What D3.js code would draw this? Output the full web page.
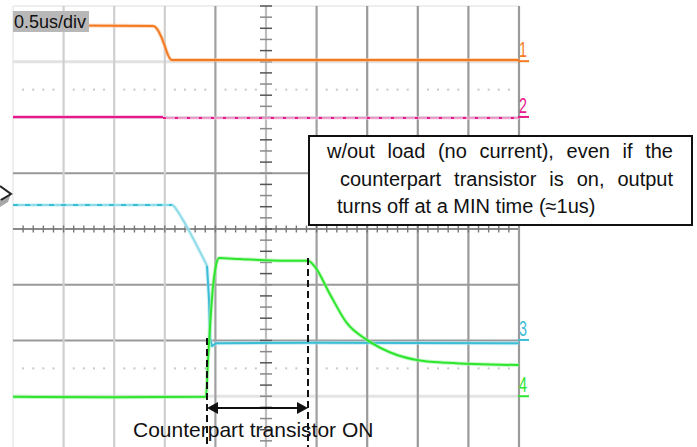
<!DOCTYPE html>
<html><head><meta charset="utf-8">
<script src="https://cdn.jsdelivr.net/npm/d3@7/dist/d3.min.js"></script>
<style>
html,body{margin:0;padding:0;background:#fff;}
svg{display:block;font-family:"Liberation Sans",Arial,sans-serif;}
</style></head>
<body>
<svg id="c" width="697" height="447"></svg>
<script>
// ---- data (time in us, level in vertical divisions) ----
const timeLabel = "0.5us/div";
const channelNames = ["1", "2", "3", "4"];
const channelGround = [3.01, 2.01, -1.99, -3.0];
const ch1 = [[0,3.64],[0.6,3.65],[1.383,3.64],[1.423,3.59],[1.462,3.46],[1.502,3.27],[1.532,3.12],[1.571,3.03],[3,3.03],[5,3.03]];
const ch2Before = [[0,2.01],[1.482,2.01]];
const ch2After = [[1.482,1.99],[5,1.99]];
const ch3Before = [[0,0.43],[1.571,0.43],[1.611,0.36],[1.650,0.25],[1.917,-0.66]];
const ch3After = [[1.917,-0.66],[1.937,-1.27],[1.947,-1.96],[1.966,-2.10],[2.006,-2.05],[3,-2.04],[5,-2.05]];
const ch4 = [[0,-3.01],[1.0,-3.02],[1.907,-3.01],[1.927,-2.35],[1.976,-1.04],[2.006,-0.65],[2.036,-0.52],[2.243,-0.54],[2.490,-0.56],[2.737,-0.57],[2.915,-0.57],[2.984,-0.68],[3.132,-1.17],[3.300,-1.69],[3.498,-1.99],[3.794,-2.26],[3.992,-2.35],[4.289,-2.40],[5,-2.44]];
const onStart = 1.917, onEnd = 2.915;
const noteLines = ["w/out load (no current), even if the", "counterpart transistor is on, output", "turns off at a MIN time (\u22481us)"];
const bottomLabel = "Counterpart transistor ON";

// ---- scales ----
const x = d3.scaleLinear().domain([0, 5]).range([13, 519]);
const y = d3.scaleLinear().domain([-4, 4]).range([452, 6]);
const svg = d3.select("#c");
const line = d3.line().x(d => x(d[0])).y(d => y(d[1]));
const smooth = d3.line().x(d => x(d[0])).y(d => y(d[1])).curve(d3.curveMonotoneX);

// ---- grid ----
const g = svg.append("g");
g.append("line").attr("x1", x(0)).attr("x2", x(0)).attr("y1", y(4)).attr("y2", 447).attr("stroke", "#eeeeee").attr("stroke-width", 2);
g.append("line").attr("x1", x(0)).attr("x2", x(5)).attr("y1", y(4)).attr("y2", y(4)).attr("stroke", "#eeeeee").attr("stroke-width", 2);
const hLines = [[3,"#e2e2e2",3],[2,"#aaaaaa",2],[1,"#999999",2],[0,"#8a8a8a",2],[-1,"#999999",2],[-2,"#999999",2],[-3,"#e4e4e4",3]];
hLines.forEach(([v,c,w]) => g.append("line").attr("x1", x(0)).attr("x2", x(5)).attr("y1", y(v)).attr("y2", y(v)).attr("stroke", c).attr("stroke-width", w));
const vLines = [[0.5,"#cfcfcf"],[1,"#cfcfcf"],[1.5,"#cfcfcf"],[2,"#a0a0a0"],[2.5,"#bdbdbd"],[3,"#a0a0a0"],[3.5,"#9a9a9a"],[4,"#9a9a9a"],[4.5,"#9a9a9a"],[5,"#9a9a9a"]];
vLines.forEach(([t,c]) => g.append("line").attr("x1", x(t)).attr("x2", x(t)).attr("y1", y(4)).attr("y2", 447).attr("stroke", c).attr("stroke-width", 2.2));
// dotted reference rows
[2.5, -2.5].forEach(v => {
  d3.range(0.1, 5, 0.1).forEach(t => {
    if (Math.abs(t / 0.5 - Math.round(t / 0.5)) < 1e-6) return;
    g.append("rect").attr("x", x(t) - 1).attr("y", y(v) - 1).attr("width", 2).attr("height", 2).attr("fill", "#c8c8c8");
  });
});
// centre axis ticks
d3.range(0.1, 5, 0.1).forEach(t => g.append("line").attr("x1", x(t)).attr("x2", x(t)).attr("y1", y(0) - 3.5).attr("y2", y(0) + 3.5).attr("stroke", "#777").attr("stroke-width", 1.4));
d3.range(-4, 4.01, 0.2).forEach((v, i) => g.append("line").attr("x1", x(2.5) - 6).attr("x2", x(2.5) + 6).attr("y1", y(v)).attr("y2", y(v)).attr("stroke", i % 2 ? "#8a8a8a" : "#555").attr("stroke-width", 1.5));

// ---- traces ----
function trace(data, color, halo, w, gen) {
  const gn = gen || line;
  svg.append("path").attr("d", gn(data)).attr("fill", "none").attr("stroke", halo).attr("stroke-width", w + 2).attr("stroke-opacity", 0.55).attr("stroke-linejoin", "round");
  svg.append("path").attr("d", gn(data)).attr("fill", "none").attr("stroke", color).attr("stroke-width", w).attr("stroke-linejoin", "round");
}
trace(ch1, "#f47a22", "#f9b98a", 2, smooth);
trace(ch2Before, "#e8188c", "#f5a0cd", 2);
trace(ch2After, "#f08cc4", "#fbd3ea", 1.5);
svg.append("path").attr("d", line(ch2After)).attr("fill", "none").attr("stroke", "#e8188c").attr("stroke-width", 2).attr("stroke-dasharray", "3,9");
trace(ch3Before, "#8fdbe8", "#c4eef5", 2, smooth);
svg.append("path").attr("d", line(ch3Before.slice(0, 2))).attr("fill", "none").attr("stroke", "#3cbdd6").attr("stroke-width", 2).attr("stroke-dasharray", "5,7");
trace(ch3After, "#3cbdd6", "#a5e2ee", 2);
trace(ch4, "#2ee62e", "#9cf29c", 2, smooth);

// channel markers on the right
const chColors = ["#f47a22", "#e8188c", "#3cbdd6", "#2ee62e"];
channelNames.forEach((n, i) => {
  const gy = y(channelGround[i]);
  svg.append("line").attr("x1", 518).attr("x2", 529).attr("y1", gy).attr("y2", gy).attr("stroke", chColors[i]).attr("stroke-width", 2);
  svg.append("text").attr("transform", `translate(519,${gy - 4}) scale(0.65,1)`).attr("font-size", 22).attr("fill", chColors[i]).text(n);
});

// trigger marker on the left
svg.append("path").attr("d", "M0,199 L11,194 L8,202 L0,207 Z").attr("fill", "#a8a8a8");
svg.append("path").attr("d", "M0,186 L11,194 L1,200").attr("fill", "none").attr("stroke", "#222").attr("stroke-width", 2);

// time/div label
svg.append("rect").attr("x", 13).attr("y", 11).attr("width", 76).attr("height", 21).attr("fill", "#b8b8b8");
svg.append("text").attr("x", 14).attr("y", 28).attr("font-size", 18).attr("fill", "#111").text(timeLabel);

// annotation box
svg.append("rect").attr("x", 309).attr("y", 136).attr("width", 383).attr("height", 89).attr("fill", "#fff").attr("stroke", "#111").attr("stroke-width", 2);
function justify(text, x0, x1, by) {
  const words = text.split(" ");
  const nodes = words.map(wd => svg.append("text").attr("font-size", 20).attr("fill", "#111").attr("y", by).text(wd));
  const widths = nodes.map(nd => nd.node().getComputedTextLength());
  const gap = (x1 - x0 - d3.sum(widths)) / (words.length - 1);
  let cx = x0;
  nodes.forEach((nd, i) => { nd.attr("x", cx); cx += widths[i] + gap; });
}
justify(noteLines[0], 327, 673, 158);
justify(noteLines[1], 340, 673, 186);
svg.append("text").attr("x", 337).attr("y", 213).attr("font-size", 20).attr("fill", "#111").text(noteLines[2]);

// ON-time annotation
svg.append("line").attr("x1", x(onStart)).attr("x2", x(onStart)).attr("y1", 338).attr("y2", 447).attr("stroke", "#111").attr("stroke-width", 2).attr("stroke-dasharray", "7,4");
svg.append("line").attr("x1", x(onEnd)).attr("x2", x(onEnd)).attr("y1", 258).attr("y2", 447).attr("stroke", "#111").attr("stroke-width", 2).attr("stroke-dasharray", "7,4");
const ay = 408;
svg.append("line").attr("x1", x(onStart) + 8).attr("x2", x(onEnd) - 8).attr("y1", ay).attr("y2", ay).attr("stroke", "#111").attr("stroke-width", 2);
svg.append("path").attr("d", `M${x(onStart)},${ay} l11,-6 l0,12 Z`).attr("fill", "#111");
svg.append("path").attr("d", `M${x(onEnd)},${ay} l-11,-6 l0,12 Z`).attr("fill", "#111");
svg.append("text").attr("x", 133).attr("y", 437).attr("font-size", 21).attr("fill", "#111").text(bottomLabel);
</script>
</body></html>
